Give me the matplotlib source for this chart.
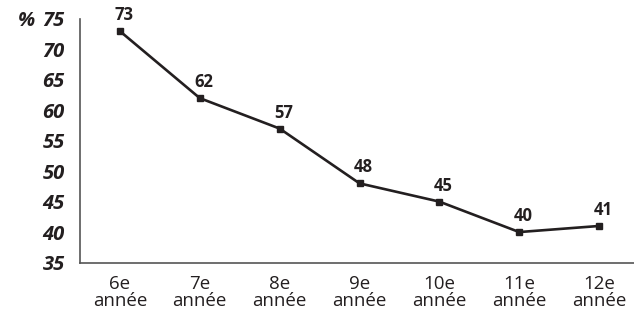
import matplotlib
matplotlib.use("Agg")
import matplotlib.pyplot as plt

categories = ["6e\nannée", "7e\nannée", "8e\nannée", "9e\nannée", "10e\nannée", "11e\nannée", "12e\nannée"]
values = [73, 62, 57, 48, 45, 40, 41]
yticks = [35, 40, 45, 50, 55, 60, 65, 70, 75]

plt.rcParams['font.family'] = ['Open Sans', 'DejaVu Sans']

fig = plt.figure(figsize=(6.34, 3.12), dpi=100)
ax = fig.add_axes([80/634, (312-262.5)/312, (639-80)/634, 243.5/312])

x = list(range(len(categories)))
color = "#231f20"
ax.plot(x, values, color=color, lw=1.9, marker="s", markersize=5, clip_on=False, zorder=3)
for xi, v in zip(x, values):
    ax.annotate(str(v), (xi, v), xytext=(3, 5), textcoords="offset points",
                ha="center", va="bottom", fontsize=12, fontweight="bold", color=color)

ax.set_xlim(-0.5, 6.5)
ax.set_ylim(35, 75)
ax.set_yticks(yticks)
ax.set_yticklabels([str(t) for t in yticks], fontsize=14.5, fontweight="bold", style="italic", color=color)
ax.set_xticks(x)
ax.set_xticklabels(categories, fontsize=13.5, color=color, linespacing=0.95)
ax.tick_params(axis="both", length=0)
ax.tick_params(axis="y", pad=11)
ax.tick_params(axis="x", pad=9)
for s in ["top", "right"]:
    ax.spines[s].set_visible(False)
for s in ["left", "bottom"]:
    ax.spines[s].set_color("#555555")
    ax.spines[s].set_linewidth(1.2)

fig.text(18/634, 1 - 21/312, "%", fontsize=14.5, fontweight="bold", style="italic", color=color, ha="left", va="center")

fig.savefig("out.png", dpi=100)
